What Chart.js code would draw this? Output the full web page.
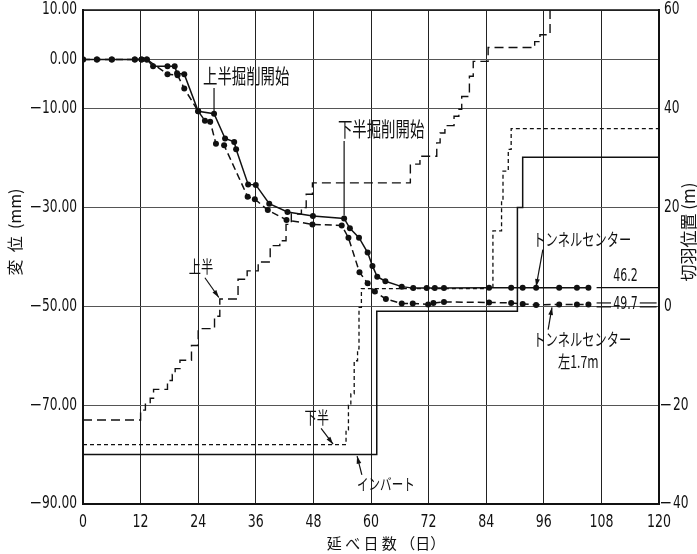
<!DOCTYPE html>
<html>
<head>
<meta charset="utf-8">
<script src="https://cdn.jsdelivr.net/npm/chart.js@4.4.1/dist/chart.umd.min.js"></script>
<style>
  html, body { margin: 0; padding: 0; background: #fff; }
  #wrap { width: 697px; height: 554px; }
</style>
</head>
<body>
<div id="wrap"><canvas id="c" width="697" height="554"></canvas></div>
<script>
// axis ticks
const xTicks = [0, 12, 24, 36, 48, 60, 72, 84, 96, 108, 120];
const leftTicks = [10, 0, -10, -30, -50, -70, -90];
const rightTicks = [60, 40, 20, 0, -20, -40];

// 変位 - トンネルセンター (solid)
const centerDays = [0, 2.9, 6, 10.8, 12.2, 13.3, 14.6, 17.6, 19.1, 19.6, 21.1, 24, 27.3, 29.6, 31.5, 31.9, 34.4, 36, 38.8, 42.6, 47.9, 54.4, 55.6, 57.5, 59.3, 60.3, 61.3, 63, 66.4, 68.8, 71.6, 73.3, 75.2, 84.6, 89.2, 91.6, 94.4, 99.2, 102.9, 105.3];
const centerDisp = [0, 0, 0, 0, 0, 0, -1.4, -1.4, -1.4, -2.8, -3.0, -10.5, -11.0, -16.0, -16.7, -18.2, -25.3, -25.4, -29.2, -30.9, -31.7, -32.2, -34.2, -36.1, -39.1, -41.8, -44.0, -44.9, -46.0, -46.3, -46.3, -46.3, -46.3, -46.2, -46.2, -46.2, -46.2, -46.2, -46.2, -46.2];

// 変位 - トンネルセンター左1.7m (dashed)
const leftDays = [0, 2.9, 6, 10.8, 12.2, 13.3, 17.6, 19.7, 21.1, 24, 25.4, 26.5, 27.7, 29.4, 34.3, 35.8, 38.5, 42.4, 47.8, 53.9, 55.3, 57.6, 59.3, 60.8, 63.1, 66.4, 68.7, 71.9, 73, 75.2, 84.6, 89.2, 91.6, 94.4, 99.2, 102.9, 105.3];
const leftDisp = [0, 0, 0, 0, 0, 0, -3.0, -3.2, -5.9, -10.5, -12.4, -12.6, -17.1, -17.4, -27.8, -28.3, -30.5, -32.5, -33.4, -33.6, -36.1, -43.1, -45.3, -47.0, -48.5, -49.4, -49.4, -49.6, -49.3, -49.1, -49.2, -49.3, -49.5, -49.7, -49.6, -49.6, -49.6];

// 切羽位置 - 上半 (long dash), day when the face moved, new position (m)
const upperDays = [0, 12, 13, 14, 14.7, 17.6, 18.6, 19.2, 20.2, 22.6, 24, 27.4, 28.5, 32.3, 34.2, 36.5, 39, 41, 42.3, 43.4, 45.5, 46.5, 47.8, 68.2, 70.2, 73.7, 74.4, 75.4, 77.3, 78.3, 78.9, 80.5, 81.3, 84.4, 94.1, 95.2, 97.3];
const upperPos = [-23, -21, -19.6, -18.6, -16.8, -15, -13.8, -12.6, -10.9, -7.9, -4.5, -2, 1.5, 5.5, 7.2, 9, 12.3, 13.3, 16.6, 18.7, 20, 22.7, 25, 28.8, 30.4, 33.1, 35.1, 36.6, 38.5, 39.9, 42.5, 46.6, 49.6, 52.4, 53.6, 55, 60];

// 切羽位置 - 下半 (short dash)
const lowerDays = [0, 54.8, 55.3, 55.8, 56.5, 57.2, 57.5, 58, 85.4, 87.2, 87.5, 88.6, 89.2, 120];
const lowerPos = [-28, -25, -20, -17.7, -11, -8.6, -0.2, 3.6, 15.3, 21.4, 27.4, 31.8, 36, 36];

// 切羽位置 - インバート (solid)
const invertDays = [0, 61.2, 90.5, 91.6, 120];
const invertPos = [-30, -1, 20, 30.2, 30.2];

const pts = (xs, ys) => xs.map((x, i) => ({ x: x, y: ys[i] }));

const numFont = "'Liberation Sans Narrow', 'DejaVu Sans Condensed', 'DejaVu Sans', sans-serif";
const jpFont = "'Noto Sans CJK JP', sans-serif";

// labels and leader lines in data units (day, mm)
const notes = [
  { t: '上半掘削開始', x: 25, y: -3.4, size: 20, align: 'left' },
  { t: '下半掘削開始', x: 53.1, y: -14.1, size: 20, align: 'left' },
  { t: '上半', x: 24.6, y: -42, size: 17, align: 'center' },
  { t: '下半', x: 48.7, y: -72.4, size: 17, align: 'center' },
  { t: 'インバート', x: 63.1, y: -86, size: 16, align: 'center' },
  { t: 'トンネルセンター', x: 104, y: -36.4, size: 17, align: 'center' },
  { t: 'トンネルセンター', x: 104, y: -56.7, size: 17, align: 'center' },
  { t: '左1.7m', x: 103.2, y: -61.2, size: 17, align: 'center' },
  { t: '46.2', x: 113, y: -44, size: 17, align: 'center', num: true },
  { t: '49.7', x: 113, y: -49.7, size: 17, align: 'center', num: true }
];
const leaders = [
  { x1: 27.3, y1: -5.8, x2: 27.3, y2: -10.8 },
  { x1: 54.4, y1: -16.5, x2: 54.4, y2: -31.6 },
  { x1: 25.4, y1: -44.2, x2: 28.3, y2: -48.2, arrow: true },
  { x1: 49.6, y1: -74.7, x2: 52.1, y2: -77.9, arrow: true },
  { x1: 58.1, y1: -84.1, x2: 57.1, y2: -80.3, arrow: true },
  { x1: 95.8, y1: -38.5, x2: 94.4, y2: -46, arrow: true },
  { x1: 96.9, y1: -54.7, x2: 97.7, y2: -50.2, arrow: true },
  { x1: 107, y1: -46.2, x2: 120, y2: -46.2 },
  { x1: 107, y1: -49.3, x2: 110, y2: -49.3 },
  { x1: 107, y1: -50.1, x2: 110, y2: -50.1 },
  { x1: 116, y1: -49.3, x2: 119.5, y2: -49.3 },
  { x1: 116, y1: -50.1, x2: 119.5, y2: -50.1 }
];

function squashText(ctx, str, px, py, font, align, sx, rot) {
  ctx.save();
  ctx.translate(px, py);
  if (rot) ctx.rotate(rot);
  ctx.scale(sx, 1);
  ctx.font = font;
  ctx.textAlign = align;
  ctx.textBaseline = 'middle';
  ctx.fillText(str, 0, 0);
  ctx.restore();
}

const extras = {
  id: 'extras',
  afterDatasetsDraw(chart) {
    const ctx = chart.ctx, xs = chart.scales.x, ys = chart.scales.y, y2s = chart.scales.y2, a = chart.chartArea;
    ctx.save();
    ctx.strokeStyle = '#111';
    ctx.fillStyle = '#111';
    // top frame
    ctx.lineWidth = 1.5;
    ctx.beginPath(); ctx.moveTo(a.left, a.top); ctx.lineTo(a.right, a.top); ctx.stroke();

    ctx.lineWidth = 1.2;
    leaders.forEach(l => {
      const x1 = xs.getPixelForValue(l.x1), y1 = ys.getPixelForValue(l.y1);
      const x2 = xs.getPixelForValue(l.x2), y2 = ys.getPixelForValue(l.y2);
      ctx.beginPath(); ctx.moveTo(x1, y1); ctx.lineTo(x2, y2); ctx.stroke();
      if (l.arrow) {
        const ang = Math.atan2(y2 - y1, x2 - x1);
        ctx.beginPath();
        ctx.moveTo(x2, y2);
        ctx.lineTo(x2 - 8 * Math.cos(ang - 0.3), y2 - 8 * Math.sin(ang - 0.3));
        ctx.lineTo(x2 - 8 * Math.cos(ang + 0.3), y2 - 8 * Math.sin(ang + 0.3));
        ctx.closePath(); ctx.fill();
      }
    });

    notes.forEach(n => {
      const px = xs.getPixelForValue(n.x), py = ys.getPixelForValue(n.y);
      const f = n.size + 'px ' + (n.num ? numFont : jpFont);
      squashText(ctx, n.t, px, py, f, n.align, 0.72);
    });

    // tick labels, narrow like the original print
    const tf = '17px ' + numFont;
    xTicks.forEach(v => squashText(ctx, String(v), xs.getPixelForValue(v), 523, tf, 'center', 0.82));
    leftTicks.forEach(v => {
      const py = ys.getPixelForValue(v);
      squashText(ctx, Math.abs(v).toFixed(2), 77, py, tf, 'right', 0.8);
      if (v < 0) squashText(ctx, '\u2212', 36, py, tf, 'center', 1);
    });
    rightTicks.forEach(v => {
      const py = y2s.getPixelForValue(v);
      if (v < 0) {
        squashText(ctx, '\u2212', 666, py, tf, 'center', 1);
        squashText(ctx, String(-v), 673, py, tf, 'left', 0.8);
      } else {
        squashText(ctx, String(v), 664, py, tf, 'left', 0.8);
      }
    });

    // axis titles
    squashText(ctx, '変  位  (mm)', 15, 232, '16px ' + jpFont, 'center', 1, -Math.PI / 2);
    squashText(ctx, '切羽位置 (m)', 689, 232, '17px ' + jpFont, 'center', 1, -Math.PI / 2);
    squashText(ctx, '延 べ 日 数 （日）', 386, 543, '15px ' + jpFont, 'center', 1);
    ctx.restore();
  }
};

new Chart(document.getElementById('c'), {
  type: 'line',
  data: {
    datasets: [
      { label: 'トンネルセンター', data: pts(centerDays, centerDisp), yAxisID: 'y',
        borderColor: '#111', borderWidth: 1.5, pointRadius: 3, pointBackgroundColor: '#111', pointBorderWidth: 0 },
      { label: 'トンネルセンター左1.7m', data: pts(leftDays, leftDisp), yAxisID: 'y',
        borderColor: '#111', borderWidth: 1.5, borderDash: [7, 4], pointRadius: 3, pointBackgroundColor: '#111', pointBorderWidth: 0 },
      { label: '上半', data: pts(upperDays, upperPos), yAxisID: 'y2', stepped: true,
        borderColor: '#111', borderWidth: 1.4, borderDash: [9, 5], pointRadius: 0 },
      { label: '下半', data: pts(lowerDays, lowerPos), yAxisID: 'y2', stepped: true,
        borderColor: '#111', borderWidth: 1.3, borderDash: [4, 3], pointRadius: 0 },
      { label: 'インバート', data: pts(invertDays, invertPos), yAxisID: 'y2', stepped: true,
        borderColor: '#111', borderWidth: 1.5, pointRadius: 0 }
    ]
  },
  options: {
    responsive: false,
    animation: false,
    layout: { padding: { top: 10, left: 0, right: 0, bottom: 0 } },
    plugins: { legend: { display: false }, tooltip: { enabled: false } },
    scales: {
      x: {
        type: 'linear', min: 0, max: 120,
        afterBuildTicks: s => { s.ticks = xTicks.map(v => ({ value: v })); },
        afterFit: s => { s.height = 50; },
        grid: { color: '#222', lineWidth: 1, drawTicks: false },
        border: { display: true, color: '#111', width: 2 },
        ticks: { display: false }
      },
      y: {
        position: 'left', min: -90, max: 10,
        afterBuildTicks: s => { s.ticks = leftTicks.map(v => ({ value: v })); },
        afterFit: s => { s.width = 83; },
        grid: { color: '#555', lineWidth: 1, drawTicks: false },
        border: { display: true, color: '#111', width: 2 },
        ticks: { display: false }
      },
      y2: {
        position: 'right', min: -40, max: 60,
        afterBuildTicks: s => { s.ticks = rightTicks.map(v => ({ value: v })); },
        afterFit: s => { s.width = 38; },
        grid: { drawOnChartArea: false, drawTicks: false },
        border: { display: true, color: '#111', width: 2 },
        ticks: { display: false }
      }
    }
  },
  plugins: [extras]
});
</script>
</body>
</html>
